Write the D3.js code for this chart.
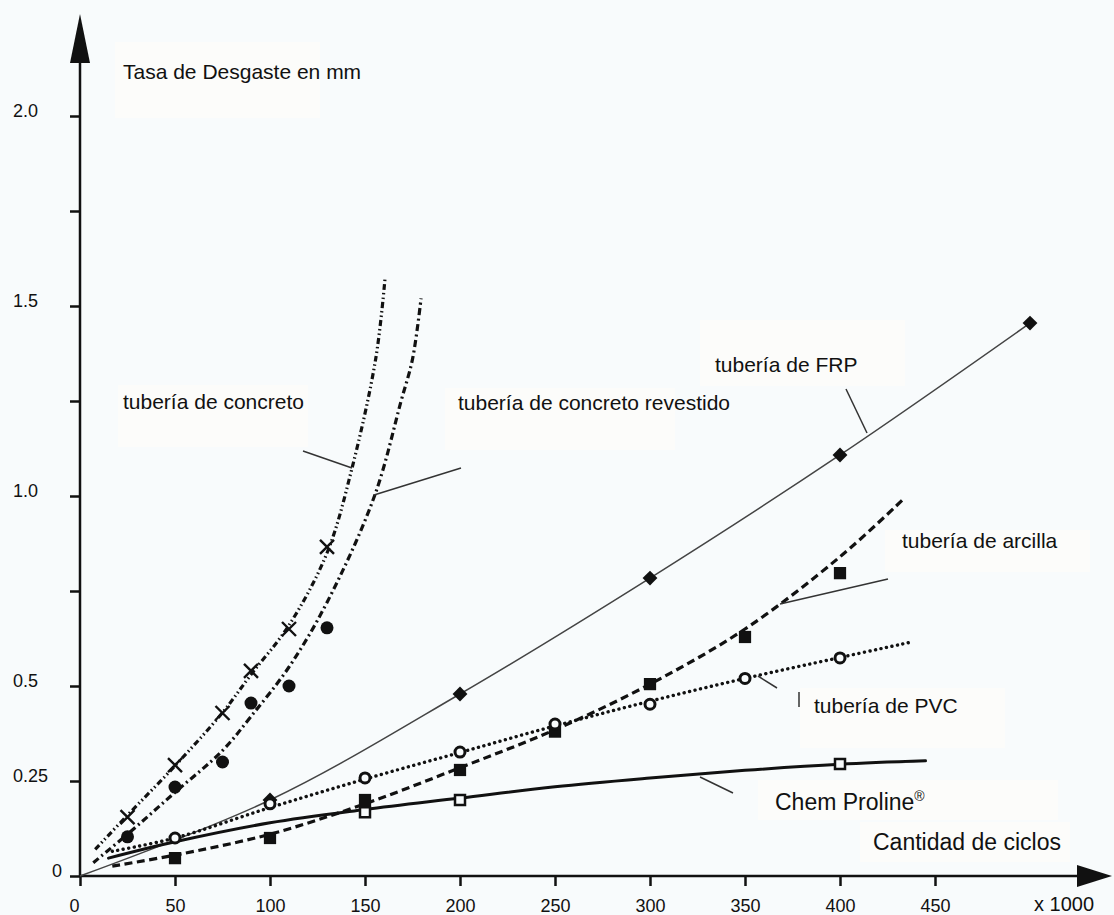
<!DOCTYPE html>
<html>
<head>
<meta charset="utf-8">
<script src="https://cdn.jsdelivr.net/npm/d3@7"></script>
<style>
  html, body { margin: 0; padding: 0; background: #f8fbfc; }
  svg { display: block; font-family: "Liberation Sans", Arial, Helvetica, sans-serif; }
</style>
</head>
<body>
<svg id="chart" width="1114" height="915"></svg>
<script>
// ---------------- data ----------------
const xTicks = [0, 50, 100, 150, 200, 250, 300, 350, 400, 450];
const yTicks = [0, 0.25, 0.5, 0.75, 1.0, 1.25, 1.5, 1.75, 2.0];
const yTickLabels = {0: "0", 0.25: "0.25", 0.5: "0.5", 1: "1.0", 1.5: "1.5", 2: "2.0"};

// measured points (x in thousands of cycles, y in mm)
const concretoPts   = [[25,0.155],[50,0.292],[75,0.429],[90,0.54],[110,0.65],[130,0.866]];
const revestidoPts  = [[25,0.103],[50,0.234],[75,0.30],[90,0.455],[110,0.50],[130,0.653]];
const frpPts        = [[100,0.20],[200,0.479],[300,0.784],[400,1.108],[500,1.455]];
const arcillaPts    = [[50,0.047],[100,0.10],[150,0.20],[200,0.279],[250,0.38],[300,0.505],[350,0.629],[400,0.797]];
const pvcPts        = [[50,0.10],[100,0.19],[150,0.258],[200,0.326],[250,0.40],[300,0.452],[350,0.52],[400,0.574]];
const chemPts       = [[150,0.168],[200,0.20],[400,0.295]];

// fitted curves
const concretoFit  = [[8,0.07],[25,0.16],[50,0.29],[75,0.43],[90,0.53],[110,0.66],[130,0.85],[143,1.07],[155.6,1.36],[160.5,1.57]];
const revestidoFit = [[7,0.035],[25,0.11],[50,0.22],[75,0.33],[90,0.42],[110,0.55],[130,0.72],[155,1.0],[169,1.25],[175,1.36],[179.5,1.52]];
const frpFit       = [[0,0],[100,0.2],[200,0.479],[300,0.784],[400,1.108],[500,1.455]];
const arcillaFit   = [[17,0.026],[50,0.055],[100,0.11],[150,0.19],[200,0.285],[250,0.385],[300,0.505],[350,0.65],[400,0.84],[433,0.99]];
const pvcFit       = [[17,0.065],[50,0.1],[100,0.18],[150,0.255],[200,0.325],[250,0.395],[300,0.46],[350,0.52],[400,0.575],[437,0.615]];
const chemFit      = [[15,0.047],[50,0.09],[100,0.14],[150,0.175],[200,0.205],[250,0.235],[300,0.258],[350,0.278],[400,0.294],[445,0.303]];

// ---------------- setup ----------------
const svg = d3.select("#chart");
const x = d3.scaleLinear().domain([0, 450]).range([80, 935]);
const y = d3.scaleLinear().domain([0, 2]).range([876, 116]);
const ink = "#111";
const bg = "#f8fbfc";

// label boxes (barely warmer white)
const boxes = [
  [115, 42, 205, 76], [118, 385, 190, 62], [445, 388, 230, 62],
  [700, 320, 205, 66], [885, 530, 205, 42], [800, 688, 205, 60],
  [758, 780, 300, 40], [860, 822, 210, 40]
];
svg.append("g").selectAll("rect").data(boxes).join("rect")
  .attr("x", d => d[0]).attr("y", d => d[1]).attr("width", d => d[2]).attr("height", d => d[3])
  .attr("fill", "#fcfcfa");

// ---------------- axes ----------------
const xAxisG = svg.append("g").attr("transform", `translate(0,${y(0)})`)
  .call(d3.axisBottom(x).tickValues(xTicks).tickSize(10).tickPadding(13).tickFormat(d3.format("d")));
xAxisG.attr("font-size", 18).attr("font-family", null);
xAxisG.select(".domain").remove();
xAxisG.selectAll(".tick line").attr("stroke", ink).attr("stroke-width", 2.5);
xAxisG.selectAll(".tick text").attr("fill", ink).attr("dx", d => d === 0 ? -6 : 0);

const yAxisG = svg.append("g").attr("transform", `translate(${x(0)},0)`)
  .call(d3.axisLeft(y).tickValues(yTicks).tickSize(10).tickFormat(d => yTickLabels[d] || ""));
yAxisG.attr("font-size", 18).attr("font-family", null);
yAxisG.select(".domain").remove();
yAxisG.selectAll(".tick line").attr("stroke", ink).attr("stroke-width", 2.5);
yAxisG.selectAll(".tick text").attr("fill", ink)
  .attr("text-anchor", d => d === 0 ? "end" : "start")
  .attr("x", d => d === 0 ? -18 : -67)
  .attr("dy", "0.0em");

// axis lines with arrows
svg.append("line").attr("x1", x(0)).attr("x2", x(0)).attr("y1", y(0)).attr("y2", 60)
  .attr("stroke", ink).attr("stroke-width", 2.5);
svg.append("path").attr("d", `M${x(0)},14 L${x(0) - 10},63 L${x(0) + 10},63 Z`).attr("fill", ink);
svg.append("line").attr("x1", x(0)).attr("x2", 1080).attr("y1", y(0)).attr("y2", y(0))
  .attr("stroke", ink).attr("stroke-width", 2.5);
svg.append("path").attr("d", `M1112,${y(0)} L1077,${y(0) - 11} L1077,${y(0) + 11} Z`).attr("fill", ink);

// ---------------- curves ----------------
const line = d3.line().x(d => x(d[0])).y(d => y(d[1])).curve(d3.curveCatmullRom.alpha(0.5));
const curves = [
  {data: concretoFit,  w: 3.2, dash: "6,3,1.5,3,1.5,3", color: ink, cap: "butt"},
  {data: revestidoFit, w: 3.2, dash: "7,3.5,2,3.5",     color: ink, cap: "butt"},
  {data: frpFit,       w: 1.5, dash: null,              color: "#444", cap: "butt"},
  {data: arcillaFit,   w: 3.2, dash: "8,4.5",           color: ink, cap: "butt"},
  {data: pvcFit,       w: 3.4, dash: "0.1,5.5",         color: ink, cap: "round"},
  {data: chemFit,      w: 3,   dash: null,              color: ink, cap: "round"}
];
svg.append("g").selectAll("path").data(curves).join("path")
  .attr("d", d => line(d.data)).attr("fill", "none")
  .attr("stroke", d => d.color).attr("stroke-width", d => d.w)
  .attr("stroke-dasharray", d => d.dash).attr("stroke-linecap", d => d.cap);

// ---------------- markers ----------------
const mk = svg.append("g");
// X markers
mk.selectAll(".xm").data(concretoPts).join("path").attr("class", "xm")
  .attr("transform", d => `translate(${x(d[0])},${y(d[1])})`)
  .attr("d", "M-7,-7L7,7M-7,7L7,-7").attr("stroke", ink).attr("stroke-width", 2.4).attr("fill", "none");
// filled circles
mk.selectAll(".fc").data(revestidoPts).join("circle").attr("class", "fc")
  .attr("cx", d => x(d[0])).attr("cy", d => y(d[1])).attr("r", 6.5).attr("fill", ink);
// diamonds
mk.selectAll(".dm").data(frpPts).join("path").attr("class", "dm")
  .attr("transform", d => `translate(${x(d[0])},${y(d[1])}) rotate(45)`)
  .attr("d", d3.symbol().type(d3.symbolSquare).size(110)).attr("fill", ink);
// filled squares
mk.selectAll(".fs").data(arcillaPts).join("path").attr("class", "fs")
  .attr("transform", d => `translate(${x(d[0])},${y(d[1])})`)
  .attr("d", d3.symbol().type(d3.symbolSquare).size(150)).attr("fill", ink);
// open circles
mk.selectAll(".oc").data(pvcPts).join("circle").attr("class", "oc")
  .attr("cx", d => x(d[0])).attr("cy", d => y(d[1])).attr("r", 5)
  .attr("fill", bg).attr("stroke", ink).attr("stroke-width", 3);
// open squares
mk.selectAll(".os").data(chemPts).join("path").attr("class", "os")
  .attr("transform", d => `translate(${x(d[0])},${y(d[1])})`)
  .attr("d", d3.symbol().type(d3.symbolSquare).size(100))
  .attr("fill", bg).attr("stroke", ink).attr("stroke-width", 2.5);

// ---------------- leaders ----------------
const leaders = [
  [303, 451, 352, 468], [461, 468, 374, 495], [846, 389, 867, 433],
  [888, 579, 780, 604], [758, 676, 777, 688], [799, 692, 799, 707], [700, 777, 733, 793]
];
svg.append("g").selectAll("line").data(leaders).join("line")
  .attr("x1", d => d[0]).attr("y1", d => d[1]).attr("x2", d => d[2]).attr("y2", d => d[3])
  .attr("stroke", "#333").attr("stroke-width", 1.5);

// ---------------- texts ----------------
const texts = [
  {t: "Tasa de Desgaste en mm", x: 123, y: 79, s: 21},
  {t: "tubería de concreto", x: 123, y: 409, s: 21},
  {t: "tubería de concreto revestido", x: 458, y: 410, s: 21},
  {t: "tubería de FRP", x: 715, y: 372, s: 21},
  {t: "tubería de arcilla", x: 902, y: 548, s: 21},
  {t: "tubería de PVC", x: 814, y: 713, s: 21},
  {t: "Cantidad de ciclos", x: 873, y: 850, s: 23},
  {t: "x 1000", x: 1034, y: 911, s: 20}
];
svg.append("g").selectAll("text").data(texts).join("text")
  .attr("x", d => d.x).attr("y", d => d.y).attr("font-size", d => d.s).attr("fill", ink)
  .text(d => d.t);
const chem = svg.append("text").attr("x", 775).attr("y", 810).attr("font-size", 23).attr("fill", ink);
chem.append("tspan").text("Chem Proline");
chem.append("tspan").attr("font-size", 14).attr("dy", -9).text("®");
</script>
</body>
</html>
